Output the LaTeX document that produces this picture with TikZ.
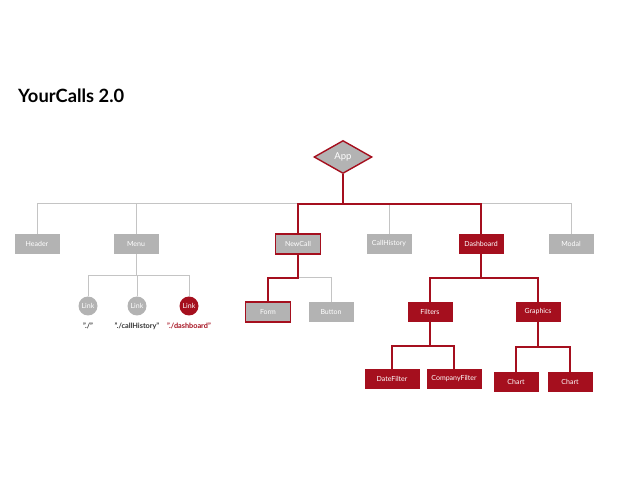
\documentclass[tikz,border=0pt]{standalone}
\usepackage{fontspec}
\setmainfont{Lato}
\usetikzlibrary{shapes.geometric}
\definecolor{rd}{HTML}{A50F1E}
\definecolor{gb}{HTML}{B3B3B3}
\definecolor{gl}{HTML}{C4C4C4}
\definecolor{tx}{HTML}{333333}
\tikzset{
  box/.style={rectangle, minimum width=45pt, minimum height=20pt, inner sep=0pt, font=\fontsize{7}{8}\selectfont, text=white},
  graybox/.style={box, fill=gb},
  grayred/.style={box, fill=gb, draw=rd, line width=1.4pt},
  redbox/.style={box, fill=rd},
  linkc/.style={circle, minimum size=19pt, inner sep=0pt, font=\fontsize{7}{8}\selectfont, text=white},
  glink/.style={linkc, fill=gb},
  rlink/.style={linkc, fill=rd},
  lab/.style={font=\bfseries\fontsize{7.3}{8}\selectfont, text=tx, inner sep=0pt},
  gline/.style={draw=gl, line width=1pt},
  rline/.style={draw=rd, line width=1.4pt},
}
\begin{document}
\begin{tikzpicture}[x=1pt, y=-1pt]
\useasboundingbox (0,0) rectangle (630,497);
\node[anchor=west, font=\bfseries\fontsize{18.3}{20}\selectfont, text=black, inner sep=0pt] (title) at (18,96) {YourCalls 2.0};

\node[diamond, fill=gb, draw=rd, line width=1.4pt, minimum width=58pt, minimum height=33pt, aspect=1.76, inner sep=0pt, font=\fontsize{9.5}{10}\selectfont, text=white] (app) at (343,157) {App};

\node[graybox] (header) at (37,244) {Header};
\node[graybox] (menu) at (136,244) {Menu};
\node[grayred] (newcall) at (298,244) {NewCall};
\node[graybox] (callhistory) at (389,244) {CallHistory};
\node[redbox] (dashboard) at (481,244) {Dashboard};
\node[graybox] (modal) at (571,244) {Modal};

\node[glink] (l1) at (88,306) {Link};
\node[glink] (l2) at (137,306) {Link};
\node[rlink] (l3) at (189,306) {Link};
\node[lab] (t1) at (88,326) {"./"};
\node[lab] (t2) at (137,326) {"./callHistory"};
\node[lab, text=rd] (t3) at (189,326) {"./dashboard"};

\node[grayred] (form) at (268,312) {Form};
\node[graybox] (button) at (331,312) {Button};

\node[redbox] (filters) at (430,312) {Filters};
\node[redbox] (graphics) at (538,312) {Graphics};

\node[redbox, minimum width=55pt] (datefilter) at (392,379) {DateFilter};
\node[redbox, minimum width=55pt] (companyfilter) at (454,379) {CompanyFilter};
\node[redbox] (chart1) at (516,382) {Chart};
\node[redbox] (chart2) at (570,382) {Chart};

\coordinate (b1) at (0,204);
\coordinate (b2) at (0,276);
\coordinate (b3) at (0,278);
\coordinate (b4) at (0,346);
\coordinate (b5) at (0,347);

% top bus
\draw[gline] (header.north) -- (header.north |- b1) -- (modal.north |- b1) -- (modal.north);
\draw[gline] (menu.north) -- (menu.north |- b1);
\draw[gline] (callhistory.north) -- (callhistory.north |- b1);
\draw[rline] (app.south) -- (app.south |- b1);
\draw[rline] (newcall.north) -- (newcall.north |- b1) -- (dashboard.north |- b1) -- (dashboard.north);

% menu
\draw[gline] (menu.south) -- (menu.south |- b2);
\draw[gline] (l1.north) -- (l1.north |- b2) -- (l3.north |- b2) -- (l3.north);
\draw[gline] (l2.north) -- (l2.north |- b2);

% newcall
\draw[gline] (newcall.south |- b3) -- (button.north |- b3) -- (button.north);
\draw[rline] (newcall.south) -- (newcall.south |- b3) -- (form.north |- b3) -- (form.north);

% dashboard
\draw[rline] (dashboard.south) -- (dashboard.south |- b3);
\draw[rline] (filters.north) -- (filters.north |- b3) -- (graphics.north |- b3) -- (graphics.north);

% filters
\draw[rline] (filters.south) -- (filters.south |- b4);
\draw[rline] (datefilter.north) -- (datefilter.north |- b4) -- (companyfilter.north |- b4) -- (companyfilter.north);

% graphics
\draw[rline] (graphics.south) -- (graphics.south |- b5);
\draw[rline] (chart1.north) -- (chart1.north |- b5) -- (chart2.north |- b5) -- (chart2.north);
\end{tikzpicture}
\end{document}
